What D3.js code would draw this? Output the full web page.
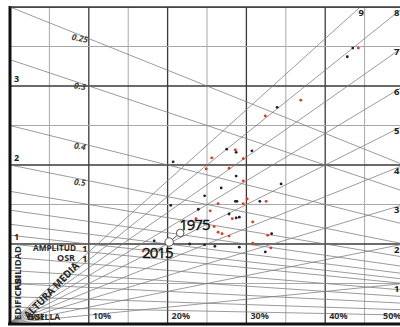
<!DOCTYPE html>
<html>
<head>
<meta charset="utf-8">
<script src="https://cdn.jsdelivr.net/npm/d3@7"></script>
<style>
  html, body { margin: 0; padding: 0; background: #fff; }
  svg { display: block; }
  text { font-family: "Open Sans", "DejaVu Sans", sans-serif; }
</style>
</head>
<body>
<svg id="chart" width="400" height="327"></svg>
<script>
// ---- data ----
const gsiTickValues = [0.1, 0.2, 0.3, 0.4, 0.5];
const gsiTickLabels = ["10%", "20%", "30%", "40%", "50%"];
const fsiTickValues = [1, 2, 3];
const fsiTickLabels = ["1", "2", "3"];
const layerValues = [1, 2, 3, 4, 5, 6, 7, 8, 9];
const layerLabels = ["1", "2", "3", "4", "5", "6", "7", "8", "9"];
const osrValues = [0.25, 0.3, 0.4, 0.5, 0.6, 0.7, 0.8, 0.9, 1, 1.2, 1.5, 2, 3, 5];
const osrLabelValues = [0.25, 0.3, 0.4, 0.5];
const osrLabelTexts = ["0.25", "0.3", "0.4", "0.5"];

const blackGSI = [0.435, 0.428, 0.339, 0.275, 0.287, 0.307, 0.207, 0.287, 0.268, 0.344, 0.247, 0.286, 0.288, 0.317, 0.204, 0.239, 0.278, 0.291, 0.287, 0.332, 0.247, 0.260, 0.291, 0.324, 0.183, 0.228];
const blackFSI = [3.48, 3.37, 2.73, 2.20, 2.16, 2.18, 2.04, 1.86, 1.71, 1.76, 1.61, 1.54, 1.54, 1.54, 1.49, 1.44, 1.38, 1.34, 1.33, 1.13, 0.99, 0.97, 0.96, 0.90, 1.04, 1.00];
const redGSI = [0.442, 0.369, 0.324, 0.286, 0.256, 0.296, 0.278, 0.249, 0.296, 0.301, 0.325, 0.296, 0.264, 0.254, 0.282, 0.308, 0.259, 0.264, 0.269, 0.278, 0.327, 0.308, 0.331, 0.236, 0.169];
const redFSI = [3.48, 2.82, 2.62, 2.19, 2.09, 2.08, 1.96, 1.95, 1.80, 1.57, 1.54, 1.51, 1.51, 1.42, 1.32, 1.28, 1.22, 1.15, 1.13, 1.10, 1.11, 1.01, 0.95, 1.32, 0.91];

const yearLabels = ["2015", "1975"];
const yearGSI = [0.202, 0.216];
const yearFSI = [1.025, 1.14];

// ---- layout ----
const svg = d3.select("#chart");
const x = d3.scaleLinear().domain([0, 0.5]).range([10, 404]);
const y = d3.scaleLinear().domain([0, 4]).range([323, 7]);

const defs = svg.append("defs");
defs.append("clipPath").attr("id", "plotclip")
  .append("rect").attr("x", x(0)).attr("y", y(4)).attr("width", x(0.5) - x(0)).attr("height", y(0) - y(4));

const plot = svg.append("g").attr("clip-path", "url(#plotclip)");

// grid
const vGrid = d3.range(0.05, 0.5001, 0.05);
plot.selectAll("line.vg").data(vGrid).enter().append("line")
  .attr("x1", d => x(d)).attr("x2", d => x(d))
  .attr("y1", y(0)).attr("y2", y(4))
  .attr("stroke", (d, i) => (i % 2 === 1) ? "#3a3a3a" : "#a8a8a8")
  .attr("stroke-width", (d, i) => (i % 2 === 1) ? 1.3 : 1);
const hGrid = d3.range(0.5, 4.001, 0.5);
plot.selectAll("line.hg").data(hGrid).enter().append("line")
  .attr("x1", x(0)).attr("x2", x(0.5))
  .attr("y1", d => y(d)).attr("y2", d => y(d))
  .attr("stroke", (d, i) => (i % 2 === 1) ? "#3a3a3a" : "#a8a8a8")
  .attr("stroke-width", (d, i) => (i % 2 === 1) ? 1.3 : 1);

// OSR lines: FSI = (1 - GSI) / OSR
plot.selectAll("line.osr").data(osrValues).enter().append("line")
  .attr("x1", x(0)).attr("y1", d => y(1 / d))
  .attr("x2", x(0.6)).attr("y2", d => y(0.4 / d))
  .attr("stroke", "#7a7a7a").attr("stroke-width", 0.75);

// Layer rays: FSI = L * GSI
plot.selectAll("line.ray").data(layerValues).enter().append("line")
  .attr("x1", x(0)).attr("y1", y(0))
  .attr("x2", d => x(0.6)).attr("y2", d => y(0.6 * d))
  .attr("stroke", "#7a7a7a").attr("stroke-width", 0.75);

// points
plot.selectAll("circle.blk").data(blackGSI).enter().append("circle")
  .attr("cx", d => x(d)).attr("cy", (d, i) => y(blackFSI[i])).attr("r", 1.4)
  .attr("fill", "#1d2033");
plot.selectAll("circle.red").data(redGSI).enter().append("circle")
  .attr("cx", d => x(d)).attr("cy", (d, i) => y(redFSI[i])).attr("r", 1.4)
  .attr("fill", "#e8321e");

// year markers
plot.append("line")
  .attr("x1", x(yearGSI[0])).attr("y1", y(yearFSI[0]))
  .attr("x2", x(yearGSI[1])).attr("y2", y(yearFSI[1]))
  .attr("stroke", "#555").attr("stroke-width", 1);
plot.selectAll("circle.yr").data(yearGSI).enter().append("circle")
  .attr("cx", d => x(d)).attr("cy", (d, i) => y(yearFSI[i]))
  .attr("r", (d, i) => i === 0 ? 4.2 : 3.8)
  .attr("fill", "#fff").attr("stroke", "#555").attr("stroke-width", 1);

// borders
svg.append("line").attr("x1", x(0)).attr("x2", x(0)).attr("y1", y(4) - 1).attr("y2", y(0) + 2)
  .attr("stroke", "#111").attr("stroke-width", 3);
svg.append("line").attr("x1", x(0) - 2).attr("x2", 400).attr("y1", y(0) + 1).attr("y2", y(0) + 1)
  .attr("stroke", "#111").attr("stroke-width", 3);
svg.append("line").attr("x1", x(0)).attr("x2", 400).attr("y1", y(4)).attr("y2", y(4))
  .attr("stroke", "#3a3a3a").attr("stroke-width", 1.3);

// x tick labels
svg.selectAll("text.xt").data(gsiTickValues).enter().append("text")
  .attr("x", d => Math.min(x(d) + 4, 383)).attr("y", y(0) - 4)
  .attr("font-size", 9).attr("font-weight", 700).attr("fill", "#333")
  .text((d, i) => gsiTickLabels[i]);

// y tick labels
svg.selectAll("text.yt").data(fsiTickValues).enter().append("text")
  .attr("x", 14).attr("y", d => y(d) - 4)
  .attr("font-size", 9).attr("font-weight", 700).attr("fill", "#222")
  .text((d, i) => fsiTickLabels[i]);

// layer labels
svg.selectAll("text.lt").data(layerValues).enter().append("text")
  .attr("x", d => d * 0.5 > 4 ? x(4 / d) + 1 : 394)
  .attr("y", d => d * 0.5 >= 4 ? 13 : y(d * 0.5) + 6)
  .attr("text-anchor", d => d * 0.5 > 4 ? "middle" : "start")
  .attr("dominant-baseline", "middle")
  .attr("font-size", 9.5).attr("font-weight", 700).attr("fill", "#222")
  .text((d, i) => layerLabels[i]);

// OSR labels
svg.selectAll("text.ot").data(osrLabelValues).enter().append("text")
  .attr("transform", d => {
    const gx = 0.1, px = x(gx) - 9, py = y((1 - (px - 10) / 788) / d) + 4;
    const ang = Math.atan((y(0) - y(1 / d)) / (x(1) - x(0))) * 180 / Math.PI;
    return `translate(${px},${py}) rotate(${ang * 0.5})`;
  })
  .attr("text-anchor", "middle").attr("dominant-baseline", "middle")
  .attr("font-size", 8.5).attr("font-weight", 700).attr("font-style", "italic").attr("fill", "#444")
  .text((d, i) => osrLabelTexts[i]);

// name labels
const lab = svg.append("g").attr("font-weight", 700).attr("fill", "#2a2a2a");
lab.append("text").attr("x", 33).attr("y", 251).attr("font-size", 9.5)
  .attr("textLength", 43).attr("lengthAdjust", "spacingAndGlyphs").text("AMPLITUD");
lab.append("text").attr("x", 82).attr("y", 252).attr("font-size", 9.5).text("1");
lab.append("text").attr("x", 57).attr("y", 261).attr("font-size", 9.5)
  .attr("textLength", 18).attr("lengthAdjust", "spacingAndGlyphs").text("OSR");
lab.append("text").attr("x", 82).attr("y", 262).attr("font-size", 9.5).text("1");
lab.append("text").attr("transform", "translate(54,293) rotate(-46)")
  .attr("text-anchor", "middle").attr("font-size", 10.5)
  .attr("textLength", 74).attr("lengthAdjust", "spacingAndGlyphs").text("ALTURA MEDIA");
lab.append("text").attr("transform", "translate(21,283) rotate(-90)")
  .attr("text-anchor", "middle").attr("font-size", 9.5)
  .attr("textLength", 74).attr("lengthAdjust", "spacingAndGlyphs").text("EDIFICABILIDAD");
lab.append("text").attr("transform", "translate(21,283) rotate(-90)")
  .attr("text-anchor", "middle").attr("font-size", 9.5)
  .attr("textLength", 16).attr("lengthAdjust", "spacingAndGlyphs").text("FSI");
lab.append("text").attr("x", 27).attr("y", 320).attr("font-size", 9.5)
  .attr("textLength", 33).attr("lengthAdjust", "spacingAndGlyphs").text("HUELLA");
lab.append("text").attr("x", 27).attr("y", 320).attr("font-size", 9.5)
  .attr("textLength", 17).attr("lengthAdjust", "spacingAndGlyphs").text("GSI");

// year labels
svg.selectAll("text.yr").data(yearLabels).enter().append("text")
  .attr("x", (d, i) => i === 0 ? x(yearGSI[i]) - 27 : x(yearGSI[i]) - 1)
  .attr("y", (d, i) => i === 0 ? y(yearFSI[i]) + 16 : y(yearFSI[i]) - 3)
  .attr("font-family", "Liberation Sans, Arial, sans-serif")
  .attr("font-size", 15).attr("letter-spacing", -1).attr("fill", "#111")
  .attr("stroke", "#111").attr("stroke-width", 0.4)
  .text(d => d);
</script>
</body>
</html>
